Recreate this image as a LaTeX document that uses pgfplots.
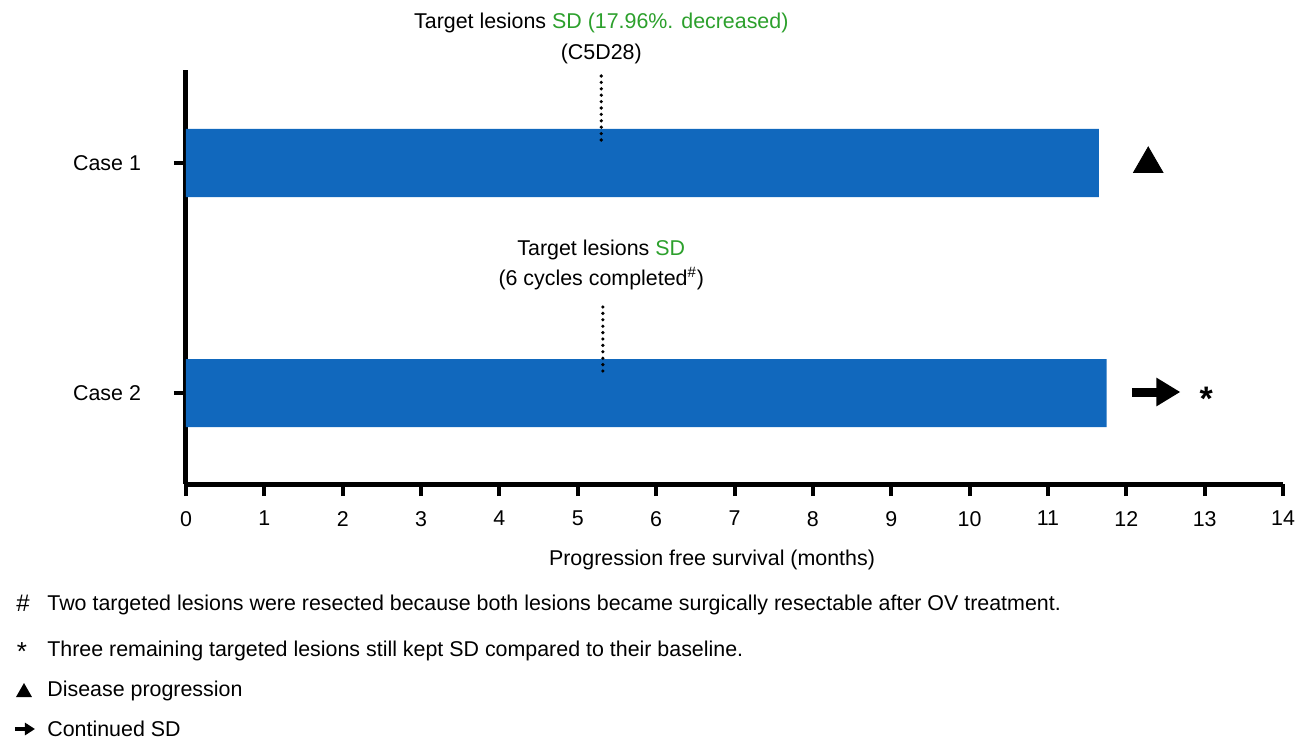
\documentclass[border=0pt]{standalone}
\usepackage{pgfplots}
\pgfplotsset{compat=1.18}
\usepackage{fontspec}
\setmainfont{Liberation Sans}
\usetikzlibrary{arrows.meta}
\definecolor{barblue}{RGB}{17,104,189}
\definecolor{sdgreen}{RGB}{44,160,44}
\newcommand{\fs}{\fontsize{10.7}{13}\selectfont}

\begin{document}
\begin{tikzpicture}[x=1pt,y=1pt]
\path[use as bounding box] (-93,-128) rectangle (560,242);
\begin{axis}[
    at={(0,0)}, anchor=south west,
    scale only axis, width=548.5pt, height=207pt,
    xmin=0, xmax=14, ymin=0, ymax=414,
    axis x line=bottom, axis y line=left,
    axis line style={-, line width=2.5pt},
    xtick={0,...,14}, ytick={91,321}, yticklabels={Case 2, Case 1},
    tick style={line width=2pt, black},
    tick align=outside, major tick length=6pt,
    font=\fs,
    /pgf/number format/assume math mode=true,
    xticklabel style={yshift=-4pt},
    yticklabel style={xshift=-13pt},
    xlabel={Progression free survival (months)},
    xlabel style={at={(rel axis cs:0.4795,0)}, anchor=center, yshift=-38pt},
    clip=false,
  ]
  % bars
  \addplot[xbar, bar width=34pt, fill=barblue, draw=none] coordinates {(11.65,321) (11.75,91)};
  % assessment time points
  \addplot[black, line width=1.8pt, line cap=round, dash pattern=on 0pt off 3.2pt] coordinates {(5.30,408) (5.30,344)};
  \addplot[black, line width=1.8pt, line cap=round, dash pattern=on 0pt off 3.2pt] coordinates {(5.32,177) (5.32,113)};
  % end markers
  \addplot[only marks, mark=triangle*, mark size=8.5pt, black] coordinates {(12.28,320)};
  \addplot[black, line width=4.5pt, -{Triangle[length=12pt,width=13.5pt]}] coordinates {(12.07,92) (12.69,92)};
  \node[font=\fontsize{17}{17}\selectfont\bfseries, yshift=-3pt] at (axis cs:13.02,91) {*};
  % annotations
  \node[font=\fs] at (axis cs:5.3,461) {Target lesions \textcolor{sdgreen}{SD (17.96\%. decreased)}};
  \node[font=\fs] at (axis cs:5.3,430) {(C5D28)};
  \node[font=\fs] at (axis cs:5.3,234) {Target lesions \textcolor{sdgreen}{SD}};
  \node[font=\fs] at (axis cs:5.3,205) {(6 cycles completed\textsuperscript{\#})};
\end{axis}
% footnotes
\begin{scope}[every node/.style={font=\fs, anchor=west, inner sep=0pt}]
  \node at (-69.5,-60.5) {Two targeted lesions were resected because both lesions became surgically resectable after OV treatment.};
  \node at (-69.5,-83.5) {Three remaining targeted lesions still kept SD compared to their baseline.};
  \node at (-69.5,-103.5) {Disease progression};
  \node at (-69.5,-122.5) {Continued SD};
  \node[font=\fontsize{12}{12}\selectfont, anchor=center] at (-81.5,-59.5) {\#};
  \node[font=\fontsize{13}{13}\selectfont, anchor=center] at (-82,-84) {*};
  \node[anchor=center] at (-81,-103) {\tikz\fill (0,0) -- (8pt,0) -- (4pt,7pt) -- cycle;};
  \node[anchor=center] at (-80.5,-122.5) {\tikz\draw[line width=2pt, -{Triangle[length=5pt,width=6pt]}] (0,0) -- (10pt,0);};
\end{scope}
\end{tikzpicture}
\end{document}
